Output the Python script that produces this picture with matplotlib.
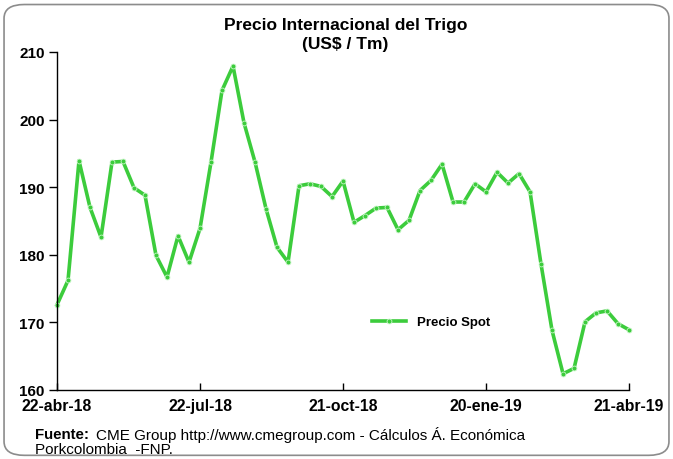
import numpy as np
import pandas as pd
import matplotlib
matplotlib.use("Agg")
import matplotlib.pyplot as plt
from matplotlib.patches import FancyBboxPatch

# precio spot semanal del trigo (US$/Tm)
fechas = pd.date_range("2018-04-22", periods=53, freq="7D")
precio = [172.6, 176.2, 193.9, 187.0, 182.6, 193.7, 193.8, 189.9, 188.8, 179.9,
          176.7, 182.8, 178.9, 183.9, 193.7, 204.3, 207.9, 199.5, 193.7, 186.8,
          181.1, 178.9, 190.2, 190.5, 190.1, 188.6, 190.9, 184.8, 185.8, 186.9,
          187.0, 183.7, 185.1, 189.5, 191.0, 193.4, 187.8, 187.8, 190.5, 189.3,
          192.2, 190.6, 192.0, 189.3, 178.6, 168.8, 162.4, 163.2, 170.1, 171.4,
          171.7, 169.8, 168.9]

ticks_x = pd.to_datetime(["2018-04-22", "2018-07-22", "2018-10-21", "2019-01-20", "2019-04-21"])
etiquetas_x = ["22-abr-18", "22-jul-18", "21-oct-18", "20-ene-19", "21-abr-19"]
ticks_y = [160, 170, 180, 190, 200, 210]

plt.rcParams["font.family"] = ["Liberation Sans", "DejaVu Sans"]

fig = plt.figure(figsize=(6.73, 4.60), dpi=100)
fig.patches.append(FancyBboxPatch((0.006, 0.008), 0.988, 0.98, boxstyle="round,pad=0,rounding_size=0.03",
                                  transform=fig.transFigure, fill=False, edgecolor="#8c8c8c", lw=1.2))

ax = fig.add_axes([0.0847, 0.15, 0.85, 0.735])
ax.plot(fechas, precio, color="#3ccc3c", lw=2.6, marker="o", ms=3.5,
        mfc="#3ccc3c", mec="#c8f5c8", mew=0.6, solid_joinstyle="round", label="Precio Spot")

ax.set_xlim(fechas[0], fechas[-1])
ax.set_ylim(160, 210)
ax.set_yticks(ticks_y)
ax.set_xticks(ticks_x)
ax.set_xticklabels(etiquetas_x)
for s in ["top", "right"]:
    ax.spines[s].set_visible(False)
for s in ["left", "bottom"]:
    ax.spines[s].set_color("black")
    ax.spines[s].set_linewidth(1.0)
ax.tick_params(axis="y", direction="out", length=6, width=1, labelsize=11, pad=3)
ax.tick_params(axis="x", direction="in", length=5, width=1, labelsize=11.3, pad=6)
for t in ax.get_xticklabels() + ax.get_yticklabels():
    t.set_fontweight("bold")
for ln in ax.lines:
    ln.set_clip_on(False)

ax.legend(loc="center left", bbox_to_anchor=(0.53, 0.2), frameon=False,
          handlelength=2.6, prop={"weight": "bold", "size": 9.5})

fig.text(0.513, 0.945, "Precio Internacional del Trigo", ha="center", va="center",
         fontsize=12.5, fontweight="bold")
fig.text(0.513, 0.903, "(US$ / Tm)", ha="center", va="center", fontsize=12.5, fontweight="bold")

fig.text(0.052, 0.055, "Fuente:", ha="left", va="center", fontsize=10.8, fontweight="bold")
fig.text(0.143, 0.055, "CME Group http://www.cmegroup.com - Cálculos Á. Económica",
         ha="left", va="center", fontsize=11)
fig.text(0.052, 0.021, "Porkcolombia  -FNP.", ha="left", va="center", fontsize=11)

fig.savefig("out.png", dpi=100)
